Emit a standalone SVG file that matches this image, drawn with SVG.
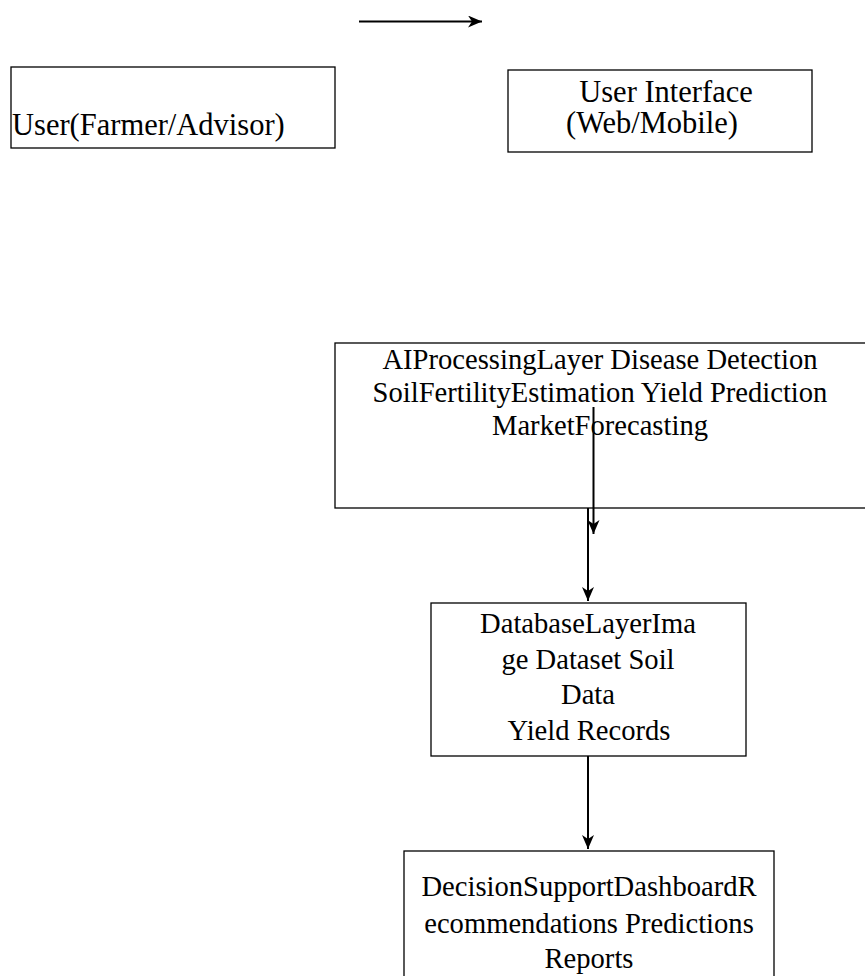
<svg xmlns="http://www.w3.org/2000/svg" width="865" height="976" viewBox="0 0 865 976">
<defs>
<style>
.box{fill:#fff;stroke:#000;stroke-width:1.3}
.t{font-family:"Liberation Serif","Times New Roman",serif;font-size:28.6px;fill:#000}
.big{font-size:30.5px}
.c{text-anchor:middle}
.conn line{stroke:#000;stroke-width:2}
</style>
<marker id="ah" viewBox="0 0 14 12" refX="14" refY="6" markerWidth="14" markerHeight="12" orient="auto" markerUnits="userSpaceOnUse">
<path d="M0,0 L14,6 L0,12 L4,6 Z" fill="#000"/>
</marker>
</defs>
<rect width="865" height="976" fill="#fff"/>
<g id="user">
<rect class="box" x="11" y="67" width="324" height="81"/>
<text class="t big" x="12" y="135">User(Farmer/Advisor)</text>
</g>
<g id="ui">
<rect class="box" x="508" y="70" width="304" height="82"/>
<text class="t big c" x="666" y="102">User Interface</text>
<text class="t big c" x="652" y="133">(Web/Mobile)</text>
</g>
<g id="ai">
<rect class="box" x="335" y="343" width="531" height="165"/>
<text class="t c" x="600" y="369">AIProcessingLayer Disease Detection</text>
<text class="t c" x="600" y="402">SoilFertilityEstimation Yield Prediction</text>
<text class="t c" x="600" y="435">MarketForecasting</text>
</g>
<g id="db">
<rect class="box" x="431" y="603" width="315" height="153"/>
<text class="t c" x="588" y="633">DatabaseLayerIma</text>
<text class="t c" x="588" y="669">ge Dataset Soil</text>
<text class="t c" x="588" y="704">Data</text>
<text class="t c" x="589" y="740">Yield Records</text>
</g>
<g id="dashboard">
<rect class="box" x="404" y="851" width="370" height="140"/>
<text class="t c" x="589" y="896">DecisionSupportDashboardR</text>
<text class="t c" x="589" y="933">ecommendations Predictions</text>
<text class="t c" x="589" y="968">Reports</text>
</g>
<g class="conn" id="connectors">
<line x1="359" y1="21.5" x2="482" y2="21.5" marker-end="url(#ah)"/>
<line x1="593.5" y1="407" x2="593.5" y2="534" marker-end="url(#ah)"/>
<line x1="588" y1="508" x2="588" y2="601" marker-end="url(#ah)"/>
<line x1="588" y1="756" x2="588" y2="849" marker-end="url(#ah)"/>
</g>
</svg>
